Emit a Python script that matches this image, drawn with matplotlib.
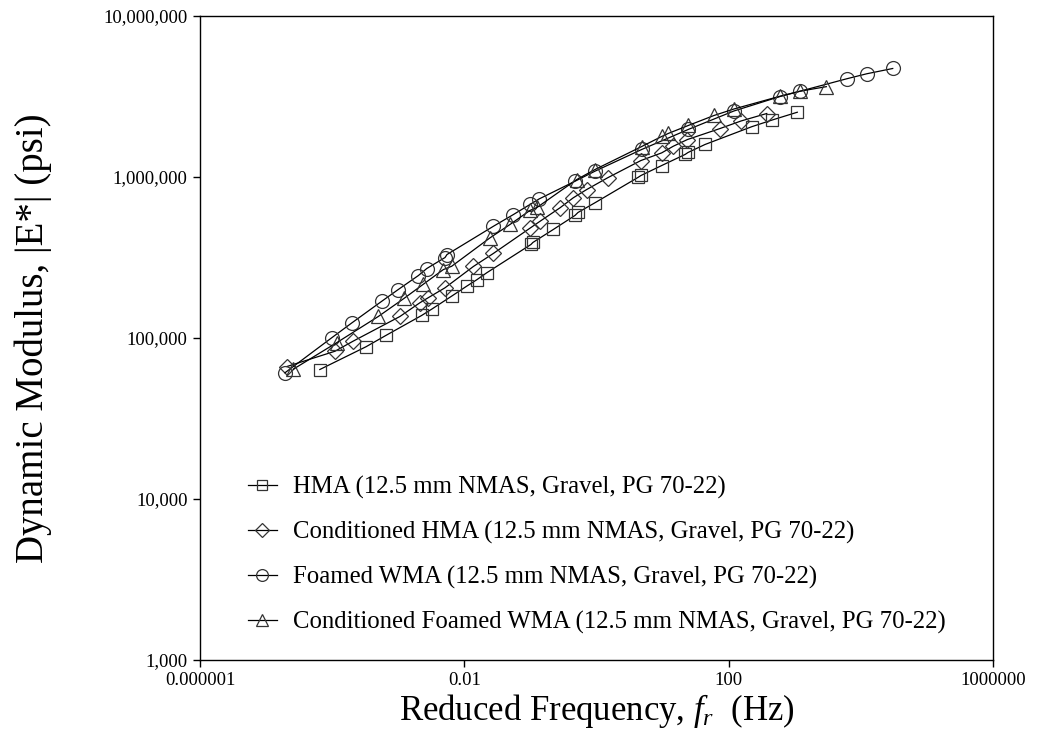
import matplotlib
matplotlib.use("Agg")
import matplotlib.pyplot as plt
from matplotlib.ticker import FixedLocator, FuncFormatter, NullLocator

plt.rcParams['font.family'] = ['Liberation Serif', 'DejaVu Serif']
plt.rcParams['mathtext.fontset'] = 'custom'
plt.rcParams['mathtext.rm'] = 'Liberation Serif'
plt.rcParams['mathtext.it'] = 'Liberation Serif:italic'

# reduced frequency (Hz) and |E*| (psi) for each mix
hma_fr = [6.5e-5, 3.25e-4, 6.5e-4, 2.26e-3, 3.24e-3, 6.44e-3, 0.0109, 0.0156, 0.0218,
          0.102, 0.109, 0.222, 0.473, 0.525, 0.95, 4.25, 4.72, 9.7, 21.9, 24.3, 43.9,
          223, 449, 1094]
hma_e = [63700, 88200, 103700, 138000, 151400, 182000, 210000, 230700, 254000,
         381000, 392000, 472000, 577000, 602000, 692000, 994000, 1022000, 1178000,
         1380000, 1420000, 1592000, 2052000, 2255000, 2525000]

chma_fr = [2.07e-5, 1.10e-4, 2.09e-4, 1.06e-3, 2.13e-3, 2.85e-3, 5.1e-3, 0.0137, 0.0275,
           0.0986, 0.140, 0.281, 0.446, 0.711, 1.47, 4.69, 9.7, 14.5, 23.8, 74, 154, 377]
chma_e = [66500, 82700, 95700, 136000, 165600, 178000, 205000, 278000, 335000,
          481000, 531000, 644000, 743000, 836000, 988000, 1265000, 1412000, 1552000,
          1709000, 2000000, 2228000, 2479000]

wma_fr = [1.93e-5, 9.84e-5, 1.98e-4, 5.62e-4, 1.0e-3, 2.01e-3, 2.70e-3, 5.1e-3, 5.47e-3,
          0.0275, 0.0551, 0.0986, 0.135, 0.473, 0.95, 4.83, 24.5, 120, 599, 1202,
          6120, 12280, 30400]
wma_e = [60800, 100300, 124000, 169000, 200000, 244000, 270000, 316000, 330000,
         494000, 584000, 675000, 730000, 941000, 1087000, 1482000, 1974000, 2570000,
         3162000, 3410000, 4074000, 4376000, 4720000]

cwma_fr = [2.58e-5, 1.18e-4, 4.99e-4, 1.22e-3, 2.37e-3, 4.81e-3, 6.44e-3, 0.0245, 0.0491,
           0.0986, 0.126, 0.502, 0.95, 4.83, 9.7, 12.2, 24.5, 60, 120, 599, 1202, 3006]
cwma_e = [64000, 93700, 136000, 176000, 215000, 266000, 279000, 419000, 507000,
          620000, 647000, 964000, 1113000, 1546000, 1785000, 1864000, 2089000,
          2410000, 2644000, 3175000, 3410000, 3640000]

labels = ["HMA (12.5 mm NMAS, Gravel, PG 70-22)",
          "Conditioned HMA (12.5 mm NMAS, Gravel, PG 70-22)",
          "Foamed WMA (12.5 mm NMAS, Gravel, PG 70-22)",
          "Conditioned Foamed WMA (12.5 mm NMAS, Gravel, PG 70-22)"]

x_ticks = [1e-6, 1e-2, 1e2, 1e6]
x_tick_labels = ["0.000001", "0.01", "100", "1000000"]
y_ticks = [1e3, 1e4, 1e5, 1e6, 1e7]

fig = plt.figure(figsize=(10.39, 7.51), dpi=100)
ax = fig.add_axes([0.1925, 0.1212, 0.7632, 0.8575])

series = [(hma_fr, hma_e, 's', 9), (chma_fr, chma_e, 'D', 8),
          (wma_fr, wma_e, 'o', 10), (cwma_fr, cwma_e, '^', 10)]
for (fr, e, mk, ms), lab in zip(series, labels):
    ax.plot(fr, e, color='black', lw=0.9, marker=mk, ms=ms, mfc='none',
            mec='#333333', mew=0.9, label=lab)

ax.set_xscale('log')
ax.set_yscale('log')
ax.set_xlim(1e-6, 1e6)
ax.set_ylim(1e3, 1e7)

ax.xaxis.set_major_locator(FixedLocator(x_ticks))
ax.xaxis.set_major_formatter(FuncFormatter(lambda v, p: x_tick_labels[x_ticks.index(v)] if v in x_ticks else ""))
ax.xaxis.set_minor_locator(NullLocator())
ax.yaxis.set_major_locator(FixedLocator(y_ticks))
ax.yaxis.set_major_formatter(FuncFormatter(lambda v, p: f"{int(round(v)):,}"))
ax.yaxis.set_minor_locator(NullLocator())
ax.tick_params(direction='out', length=5, width=1, labelsize=13.5, pad=4)

for sp in ax.spines.values():
    sp.set_linewidth(1)

ax.set_xlabel("Reduced Frequency, $f_r$  (Hz)", fontsize=25)
ax.set_ylabel("Dynamic Modulus, |E*| (psi)", fontsize=28)
ax.xaxis.set_label_coords(0.5, -0.05)
ax.yaxis.set_label_coords(-0.187, 0.5)

ax.legend(loc='lower left', bbox_to_anchor=(0.06, 0.041), frameon=False,
          fontsize=17.8, handlelength=1.17, handletextpad=0.65, labelspacing=0.88,
          markerscale=0.85, borderpad=0, borderaxespad=0)

fig.savefig("out.png", dpi=100)
